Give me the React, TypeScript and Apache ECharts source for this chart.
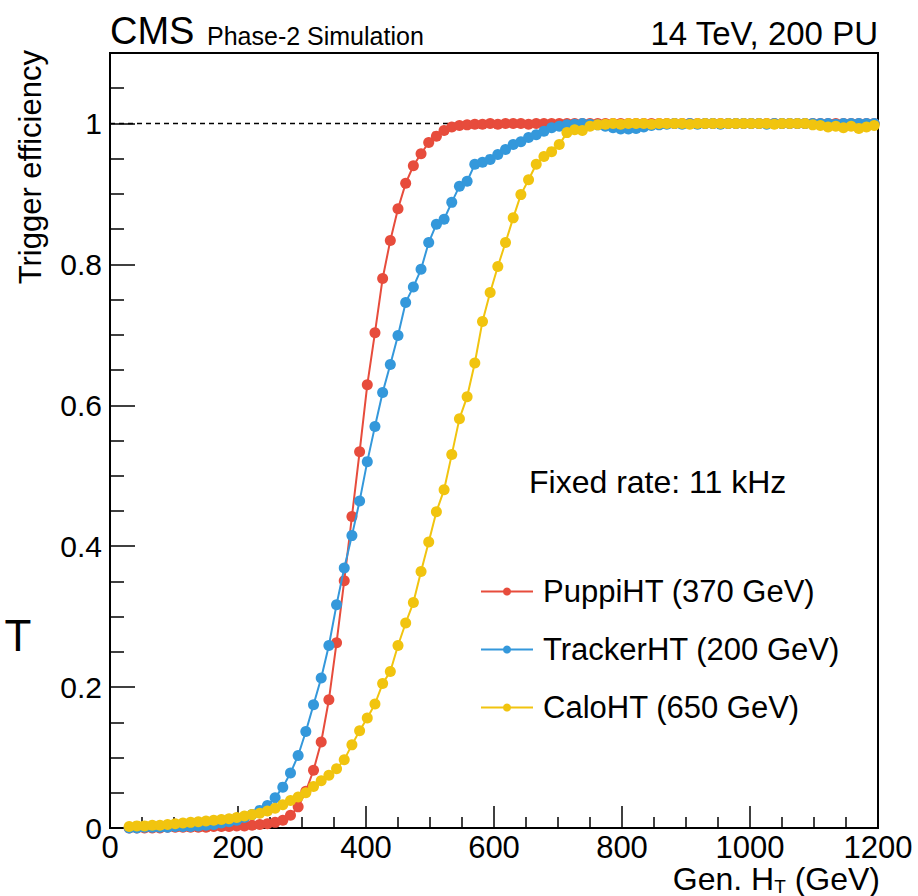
import React, { useEffect, useRef } from "react";
import * as echarts from "echarts";

// Gen. HT bin centres (GeV)
const htBins = [
  30, 42, 54, 66, 78, 90, 102, 114, 126, 138,
  150, 162, 174, 186, 198, 210, 222, 234, 246, 258,
  270, 282, 294, 306, 318, 330, 342, 354, 366, 378,
  390, 402, 414, 426, 438, 450, 462, 474, 486, 498,
  510, 522, 534, 546, 558, 570, 582, 594, 606, 618,
  630, 642, 654, 666, 678, 690, 702, 714, 726, 738,
  750, 762, 774, 786, 798, 810, 822, 834, 846, 858,
  870, 882, 894, 906, 918, 930, 942, 954, 966, 978,
  990, 1002, 1014, 1026, 1038, 1050, 1062, 1074, 1086, 1098,
  1110, 1122, 1134, 1146, 1158, 1170, 1182, 1194,
];

const puppiEff = [
  0.000, 0.000, 0.000, 0.000, 0.000, 0.001, 0.001, 0.001, 0.001, 0.001,
  0.001, 0.002, 0.002, 0.002, 0.003, 0.003, 0.004, 0.005, 0.006, 0.008,
  0.011, 0.018, 0.030, 0.052, 0.082, 0.122, 0.182, 0.263, 0.351, 0.442,
  0.534, 0.629, 0.703, 0.780, 0.834, 0.879, 0.915, 0.940, 0.957, 0.973,
  0.982, 0.990, 0.995, 0.997, 0.998, 0.999, 0.999, 1.000, 0.999, 1.000,
  1.000, 1.000, 0.999, 1.000, 1.000, 1.000, 1.000, 1.000, 1.000, 1.000,
  1.000, 1.000, 1.000, 1.000, 1.000, 1.000, 1.000, 1.000, 1.000, 1.000,
  1.000, 1.000, 1.000, 1.000, 1.000, 1.000, 1.000, 1.000, 1.000, 1.000,
  1.000, 1.000, 1.000, 1.000, 1.000, 1.000, 1.000, 1.000, 1.000, 1.000,
  1.000, 1.000, 1.000, 1.000, 1.000, 1.000, 1.000, 1.000,
];

const trackerEff = [
  0.000, 0.000, 0.001, 0.001, 0.001, 0.001, 0.002, 0.002, 0.002, 0.003,
  0.004, 0.005, 0.007, 0.009, 0.011, 0.015, 0.019, 0.025, 0.032, 0.043,
  0.058, 0.078, 0.103, 0.137, 0.175, 0.213, 0.259, 0.317, 0.369, 0.415,
  0.464, 0.520, 0.570, 0.618, 0.658, 0.699, 0.746, 0.768, 0.793, 0.831,
  0.857, 0.864, 0.888, 0.911, 0.918, 0.942, 0.945, 0.949, 0.956, 0.963,
  0.970, 0.974, 0.980, 0.984, 0.989, 0.994, 0.996, 0.998, 0.999, 1.000,
  0.999, 0.998, 0.996, 0.994, 0.992, 0.992, 0.993, 0.995, 0.997, 0.998,
  0.999, 1.000, 0.999, 1.000, 0.999, 1.000, 1.000, 0.999, 1.000, 1.000,
  1.000, 1.000, 1.000, 0.999, 1.000, 1.000, 1.000, 1.000, 1.000, 1.000,
  1.000, 1.000, 0.999, 1.000, 1.000, 1.000, 1.000, 1.000,
];

const caloEff = [
  0.002, 0.003, 0.003, 0.004, 0.004, 0.005, 0.006, 0.007, 0.008, 0.009,
  0.010, 0.011, 0.012, 0.013, 0.015, 0.017, 0.019, 0.021, 0.024, 0.028,
  0.033, 0.039, 0.044, 0.050, 0.059, 0.067, 0.075, 0.084, 0.097, 0.118,
  0.138, 0.156, 0.176, 0.205, 0.222, 0.259, 0.291, 0.320, 0.364, 0.406,
  0.449, 0.480, 0.530, 0.581, 0.612, 0.660, 0.719, 0.760, 0.797, 0.831,
  0.866, 0.899, 0.920, 0.942, 0.953, 0.960, 0.970, 0.987, 0.991, 0.990,
  0.996, 0.998, 0.999, 1.000, 0.999, 1.000, 1.000, 1.000, 0.999, 1.000,
  1.000, 1.000, 1.000, 0.999, 1.000, 1.000, 1.000, 1.000, 1.000, 1.000,
  1.000, 1.000, 1.000, 1.000, 0.999, 1.000, 1.000, 1.000, 1.000, 0.998,
  0.997, 0.995, 0.996, 0.994, 0.996, 0.993, 0.995, 0.997,
];

const seriesNames = ["PuppiHT (370 GeV)", "TrackerHT (200 GeV)", "CaloHT (650 GeV)"];
const seriesColors = ["#e74c3c", "#3498db", "#f1c40f"];
const seriesValues = [puppiEff, trackerEff, caloEff];

const xTicks = { min: 0, max: 1200, interval: 200 };
const yTicks = { min: 0, max: 1.1, interval: 0.2 };

const FONT = "'Liberation Sans', Arial, Helvetica, sans-serif";

function textWidth(text: string, size: number): number {
  const c = document.createElement("canvas").getContext("2d");
  if (!c) return text.length * size * 0.55;
  c.font = `${size}px 'Liberation Sans', Arial, Helvetica, sans-serif`;
  return c.measureText(text).width;
}

export default function App() {
  const ref = useRef<HTMLDivElement>(null);
  useEffect(() => {
    if (!ref.current) return;
    const chart = echarts.init(ref.current, null, { renderer: "svg" });
    const black = "#000";

    const dataSeries = seriesNames.map((name, k) => ({
      name,
      type: "line",
      data: htBins.map((x, i) => [x, seriesValues[k][i]]),
      symbol: "circle",
      symbolSize: 11,
      showSymbol: true,
      lineStyle: { color: seriesColors[k], width: 2 },
      itemStyle: { color: seriesColors[k] },
      z: 3 + k,
    }));

    // x-axis title with subscript, right-aligned to the axis end
    const titleSize = 32;
    const subSize = 19;
    const titleRight = 880;
    const titleY = 879;
    const wTail = textWidth(" (GeV)", titleSize);
    const wSub = textWidth("T", subSize);
    const xTail = titleRight - wTail;
    const xSub = xTail - wSub;

    chart.setOption({
      animation: false,
      backgroundColor: "#fff",
      grid: {
        left: 110,
        right: 40,
        top: 53,
        bottom: 68,
        show: true,
        borderColor: black,
        borderWidth: 2,
        backgroundColor: "transparent",
      },
      xAxis: {
        type: "value",
        min: xTicks.min,
        max: xTicks.max,
        interval: xTicks.interval,
        axisLine: { show: true, onZero: false, lineStyle: { color: black, width: 2 } },
        axisTick: { show: true, inside: true, length: 22, lineStyle: { color: black, width: 1.5 } },
        minorTick: { show: true, splitNumber: 4, length: 11, lineStyle: { color: black, width: 1.5 } },
        splitLine: { show: false },
        minorSplitLine: { show: false },
        axisLabel: {
          color: black,
          fontSize: 31,
          fontFamily: FONT,
          margin: 4,
          formatter: (v: number) => String(v),
        },
      },
      yAxis: {
        type: "value",
        min: yTicks.min,
        max: yTicks.max,
        interval: yTicks.interval,
        axisLine: { show: true, onZero: false, lineStyle: { color: black, width: 2 } },
        axisTick: { show: true, inside: true, length: 25, lineStyle: { color: black, width: 1.5 } },
        minorTick: { show: true, splitNumber: 4, length: 14, lineStyle: { color: black, width: 1.5 } },
        splitLine: { show: false },
        minorSplitLine: { show: false },
        axisLabel: {
          color: black,
          fontSize: 30,
          fontFamily: FONT,
          margin: 8,
          showMaxLabel: false,
          formatter: (v: number) => (v > 1.05 ? "" : String(+v.toFixed(1))),
        },
      },
      legend: {
        data: seriesNames,
        orient: "vertical",
        left: 475,
        top: 571,
        itemWidth: 52,
        itemHeight: 10,
        itemGap: 27,
        textStyle: { color: black, fontSize: 31, fontFamily: FONT, lineHeight: 31, padding: [0, 0, 0, 5] },
      },
      graphic: [
        { type: "text", x: 110, y: 31, style: { text: "CMS", fontSize: 38, fontFamily: FONT, fill: black, align: "left", verticalAlign: "middle" } },
        { type: "text", x: 207, y: 36, style: { text: "Phase-2 Simulation", fontSize: 25, fontFamily: FONT, fill: black, align: "left", verticalAlign: "middle" } },
        { type: "text", x: 878, y: 33, style: { text: "14 TeV, 200 PU", fontSize: 33, fontFamily: FONT, fill: black, align: "right", verticalAlign: "middle" } },
        { type: "text", x: 529, y: 482, style: { text: "Fixed rate: 11 kHz", fontSize: 32, fontFamily: FONT, fill: black, align: "left", verticalAlign: "middle" } },
        { type: "text", x: 30, y: 50, rotation: Math.PI / 2, style: { text: "Trigger efficiency", fontSize: 31, fontFamily: FONT, fill: black, align: "right", verticalAlign: "middle" } },
        { type: "text", x: xSub, y: titleY, style: { text: "Gen. H", fontSize: titleSize, fontFamily: FONT, fill: black, align: "right", verticalAlign: "middle" } },
        { type: "text", x: xSub, y: titleY + 7, style: { text: "T", fontSize: subSize, fontFamily: FONT, fill: black, align: "left", verticalAlign: "middle" } },
        { type: "text", x: xTail, y: titleY, style: { text: " (GeV)", fontSize: titleSize, fontFamily: FONT, fill: black, align: "left", verticalAlign: "middle" } },
        { type: "text", x: 18, y: 635, style: { text: "T", fontSize: 44, fontFamily: FONT, fill: black, align: "center", verticalAlign: "middle" } },
      ],
      series: [
        {
          name: "ref",
          type: "line",
          data: [[xTicks.min, 1], [xTicks.max, 1]],
          symbol: "none",
          silent: true,
          lineStyle: { color: black, width: 1.5, type: [5, 4] },
          z: 1,
        },
        ...dataSeries,
      ],
    });
    return () => chart.dispose();
  }, []);
  return <div ref={ref} style={{ position: "absolute", left: 0, top: 0, width: 918, height: 896 }} />;
}
